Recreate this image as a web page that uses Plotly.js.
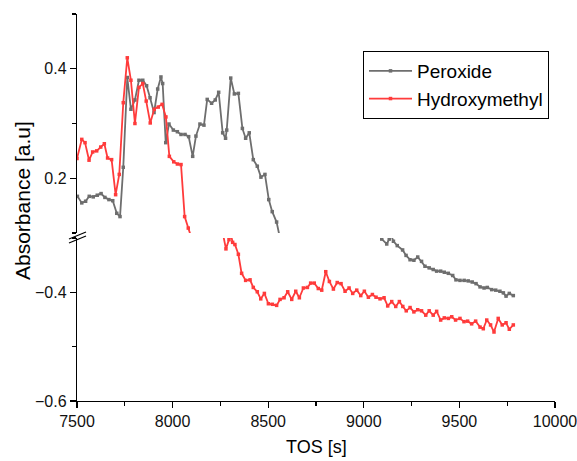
<!DOCTYPE html>
<html>
<head>
<meta charset="utf-8">
<script src="https://cdn.plot.ly/plotly-3.0.1.min.js"></script>
<style>html,body{margin:0;padding:0;background:#fff;}#chart{width:577px;height:461px;}</style>
</head>
<body>
<div id="chart"></div>
<script>
// Peroxide series (TOS [s], Absorbance [a.u])
const peroxideTOS = [7502,7525,7545,7564,7585,7606,7626,7646,7667,7687,7708,7725,7742,7763,7782,7803,7824,7844,7864,7882,7903,7922,7939,7948,7964,7981,8004,8025,8044,8065,8084,8105,8122,8143,8164,8181,8204,8223,8241,8262,8277,8283,8304,8323,8344,8365,8382,8401,8422,8443,8462,8483,8503,8521,8544,8565,
  9094,9120,9133,9144,9155,9175,9203,9221,9242,9262,9282,9302,9320,9342,9363,9381,9402,9421,9442,9465,9482,9503,9525,9546,9567,9587,9608,9629,9646,9669,9690,9712,9730,9744,9761,9782];
const peroxideAbs = [0.167,0.155,0.158,0.167,0.166,0.169,0.172,0.165,0.161,0.159,0.136,0.130,0.220,0.384,0.326,0.343,0.379,0.379,0.369,0.347,0.320,0.363,0.385,0.373,0.265,0.299,0.288,0.285,0.280,0.280,0.276,0.240,0.277,0.299,0.297,0.344,0.337,0.343,0.357,0.283,0.273,0.288,0.383,0.354,0.355,0.291,0.273,0.283,0.234,0.222,0.202,0.207,0.161,0.139,0.120,0.085,
  -0.302,-0.311,-0.302,-0.296,-0.306,-0.314,-0.322,-0.332,-0.340,-0.341,-0.335,-0.343,-0.352,-0.355,-0.358,-0.361,-0.361,-0.363,-0.365,-0.369,-0.377,-0.378,-0.378,-0.379,-0.381,-0.384,-0.390,-0.392,-0.391,-0.395,-0.396,-0.398,-0.401,-0.407,-0.402,-0.406];

// Hydroxymethyl series
const hydroxyTOS = [7500,7525,7542,7563,7582,7603,7624,7643,7660,7681,7702,7721,7742,7763,7782,7803,7824,7844,7862,7883,7904,7925,7945,7965,7983,8006,8025,8044,8063,8082,8100,
  8262,8279,8295,8305,8314,8326,8344,8361,8382,8405,8422,8443,8461,8480,8501,8522,8544,8562,8583,8602,8623,8644,8663,8684,8705,8722,8741,8762,8780,8801,8820,8841,8861,8881,8902,8923,8942,8963,8984,9003,9024,9045,9064,9085,9106,9125,9146,9167,9186,9204,9222,9242,9262,9282,9302,9324,9342,9363,9381,9402,9421,9442,9460,9480,9503,9524,9543,9564,9585,9608,9625,9643,9663,9681,9703,9724,9744,9761,9782];
const hydroxyAbs = [0.236,0.271,0.265,0.233,0.248,0.250,0.257,0.263,0.237,0.234,0.170,0.207,0.338,0.420,0.379,0.300,0.366,0.373,0.341,0.301,0.326,0.330,0.335,0.312,0.240,0.230,0.226,0.225,0.130,0.109,0.090,
  -0.290,-0.320,-0.303,-0.294,-0.308,-0.312,-0.330,-0.365,-0.378,-0.377,-0.391,-0.399,-0.412,-0.402,-0.421,-0.422,-0.424,-0.413,-0.410,-0.399,-0.413,-0.398,-0.410,-0.392,-0.391,-0.383,-0.383,-0.393,-0.396,-0.362,-0.380,-0.394,-0.382,-0.384,-0.398,-0.392,-0.402,-0.396,-0.406,-0.398,-0.409,-0.404,-0.409,-0.412,-0.410,-0.425,-0.417,-0.426,-0.417,-0.426,-0.434,-0.428,-0.436,-0.432,-0.434,-0.442,-0.434,-0.442,-0.435,-0.451,-0.447,-0.448,-0.445,-0.451,-0.448,-0.454,-0.453,-0.458,-0.453,-0.464,-0.467,-0.451,-0.460,-0.473,-0.448,-0.460,-0.456,-0.468,-0.460];

const seriesNames = ['Peroxide', 'Hydroxymethyl'];
const xTicks = [7500, 8000, 8500, 9000, 9500, 10000];
const xTickText = ['7500', '8000', '8500', '9000', '9500', '10000'];

const GRAY = '#6e6e6e', RED = '#ff3b3b';
const FONT = 'Arial, "Liberation Sans", sans-serif';

function tr(x, y, name, color, yax, legend) {
  return {x: x, y: y, name: name, yaxis: yax, xaxis: 'x', type: 'scatter', mode: 'lines+markers',
    line: {color: color, width: 1.8}, marker: {symbol: 'square', size: 3.5, color: color},
    showlegend: legend, legendgroup: name, cliponaxis: true};
}

const data = [
  tr(peroxideTOS, peroxideAbs, seriesNames[0], GRAY, 'y2', true),
  tr(peroxideTOS, peroxideAbs, seriesNames[0], GRAY, 'y', false),
  tr(hydroxyTOS, hydroxyAbs, seriesNames[1], RED, 'y2', true),
  tr(hydroxyTOS, hydroxyAbs, seriesNames[1], RED, 'y', false)
];

const axCommon = {showline: true, linecolor: '#000', linewidth: 1.2, ticks: 'outside', ticklen: 6, tickwidth: 1.2,
  tickcolor: '#000', showgrid: false, zeroline: false, ticklabeloverflow: 'allow',
  tickfont: {family: FONT, size: 16, color: '#111'}};

const W = 577, H = 461, L = 77, R = 22, T = 14, B = 60;
const pw = W - L - R, ph = H - T - B;
const px = v => (v - L) / pw;
const py = v => (H - B - v) / ph;

const layout = {
  width: W, height: H,
  margin: {l: L, r: R, t: T, b: B},
  paper_bgcolor: '#fff', plot_bgcolor: '#fff',
  font: {family: FONT, color: '#000'},
  showlegend: true,
  legend: {x: px(363), y: py(51), xanchor: 'left', yanchor: 'top', bordercolor: '#000', borderwidth: 1,
    bgcolor: '#fff', font: {family: FONT, size: 19, color: '#000'}, tracegroupgap: 0, itemwidth: 43},
  xaxis: Object.assign({}, axCommon, {range: [7500, 10000], tickvals: xTicks, ticktext: xTickText, anchor: 'y',
    minor: {dtick: 250, tick0: 7500, ticks: 'outside', ticklen: 4, tickcolor: '#000', tickwidth: 1.2}}),
  yaxis: Object.assign({}, axCommon, {range: [-0.6, -0.3], domain: [0, py(238)], dtick: 0.2, tick0: 0, anchor: 'x',
    tickformat: '.1f', minor: {dtick: 0.1, tick0: 0, ticks: 'outside', ticklen: 4, tickcolor: '#000', tickwidth: 1.2}}),
  yaxis2: Object.assign({}, axCommon, {range: [0.1, 0.5], domain: [py(233), 1], dtick: 0.2, tick0: 0, anchor: 'x',
    tickformat: '.1f', minor: {dtick: 0.1, tick0: 0, ticks: 'outside', ticklen: 4, tickcolor: '#000', tickwidth: 1.2}}),
  annotations: [
    {text: 'Absorbance [a.u]', xref: 'paper', yref: 'paper', x: px(22), y: py(201), xanchor: 'center', yanchor: 'middle',
      textangle: -90, showarrow: false, font: {family: FONT, size: 21, color: '#000'}},
    {text: 'TOS [s]', xref: 'paper', yref: 'paper', x: 0.5, y: py(447), xanchor: 'center', yanchor: 'middle',
      showarrow: false, font: {family: FONT, size: 18, color: '#000'}}
  ],
  shapes: [
    {type: 'line', xref: 'paper', yref: 'paper', x0: px(69), y0: py(239), x1: px(86), y1: py(232), line: {color: '#000', width: 1.2}},
    {type: 'line', xref: 'paper', yref: 'paper', x0: px(69), y0: py(243), x1: px(86), y1: py(236), line: {color: '#000', width: 1.2}}
  ]
};

Plotly.newPlot('chart', data, layout, {displayModeBar: false, staticPlot: true});
</script>
</body>
</html>
